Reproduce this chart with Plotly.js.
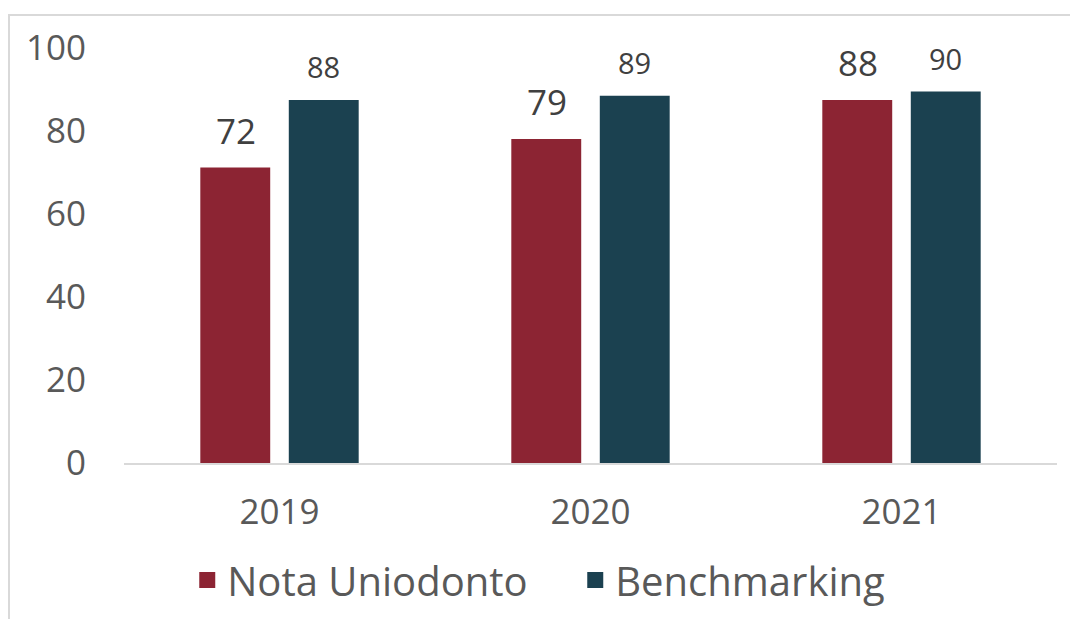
<!DOCTYPE html>
<html>
<head>
<meta charset="utf-8">
<script src="https://cdn.plot.ly/plotly-3.0.1.min.js"></script>
<style>
html,body{margin:0;padding:0;background:#fff;}
#wrap{position:relative;width:1070px;height:619px;}
#chart{position:absolute;left:0;top:0;width:1070px;height:619px;}
#frame{position:absolute;left:8px;top:14px;right:0;bottom:0;border-top:2px solid #d9d9d9;border-left:2px solid #d9d9d9;pointer-events:none;}
</style>
</head>
<body>
<div id="wrap"><div id="chart"></div><div id="frame"></div></div>
<script>
const categories = ['2019', '2020', '2021'];
// bar heights
const notaUniodonto = [71.2, 78.1, 87.5];
const benchmarking = [87.5, 88.5, 89.5];
// value labels as printed on the picture
const notaLabels = ['72', '79', '88'];
const benchLabels = ['88', '89', '90'];
const seriesNames = ['Nota Uniodonto', 'Benchmarking'];
const yTicks = [0, 20, 40, 60, 80, 100];

const FONT = 'Open Sans, Lato, sans-serif';
const colors = ['#8c2433', '#1b4150'];

const traces = [
  {type: 'bar', name: seriesNames[0], x: categories, y: notaUniodonto,
   marker: {color: colors[0]}, hoverinfo: 'skip', showlegend: false},
  {type: 'bar', name: seriesNames[1], x: categories, y: benchmarking,
   marker: {color: colors[1]}, hoverinfo: 'skip', showlegend: false},
  {type: 'scatter', mode: 'markers', name: seriesNames[0], x: [null], y: [null],
   marker: {symbol: 'square', size: 20, color: colors[0]}, hoverinfo: 'skip'},
  {type: 'scatter', mode: 'markers', name: seriesNames[1], x: [null], y: [null],
   marker: {symbol: 'square', size: 20, color: colors[1]}, hoverinfo: 'skip'}
];

const annotations = [];
categories.forEach((c, i) => {
  annotations.push({x: i, y: notaUniodonto[i], xref: 'x', yref: 'y', text: notaLabels[i],
    showarrow: false, xanchor: 'center', yanchor: 'bottom', xshift: -44, yshift: 12,
    font: {family: FONT, size: 35, color: '#404040'}});
  annotations.push({x: i, y: benchmarking[i], xref: 'x', yref: 'y', text: benchLabels[i],
    showarrow: false, xanchor: 'center', yanchor: 'bottom', xshift: 44, yshift: 12,
    font: {family: FONT, size: 29, color: '#404040'}});
});

const layout = {
  width: 1070, height: 619,
  margin: {l: 124, r: 13, t: 48, b: 156},
  paper_bgcolor: '#fff', plot_bgcolor: '#fff',
  barmode: 'group', bargap: 0.431, bargroupgap: 0.21,
  font: {family: FONT, color: '#595959'},
  xaxis: {
    type: 'category', range: [-0.5, 2.5], autorange: false,
    showgrid: false, zeroline: false,
    showline: true, linecolor: '#d9d9d9', linewidth: 2,
    ticks: 'outside', ticklen: 17, tickcolor: 'rgba(0,0,0,0)',
    tickfont: {family: FONT, size: 35, color: '#595959'}
  },
  yaxis: {
    range: [0, 100], autorange: false, tickvals: yTicks, ticktext: yTicks.map(String),
    showgrid: false, zeroline: false, showline: false,
    ticks: 'outside', ticklen: 30, tickcolor: 'rgba(0,0,0,0)',
    tickfont: {family: FONT, size: 35, color: '#595959'}
  },
  showlegend: true,
  legend: {orientation: 'h', xref: 'container', yref: 'container', x: 0.175, xanchor: 'left',
    y: 0.063, yanchor: 'middle', font: {family: FONT, size: 40, color: '#595959'},
    itemsizing: 'trace', itemwidth: 30, traceorder: 'normal',
    entrywidthmode: 'pixels', entrywidth: 343},
  annotations: annotations
};

Plotly.newPlot('chart', traces, layout, {staticPlot: true, displayModeBar: false});
</script>
</body>
</html>
